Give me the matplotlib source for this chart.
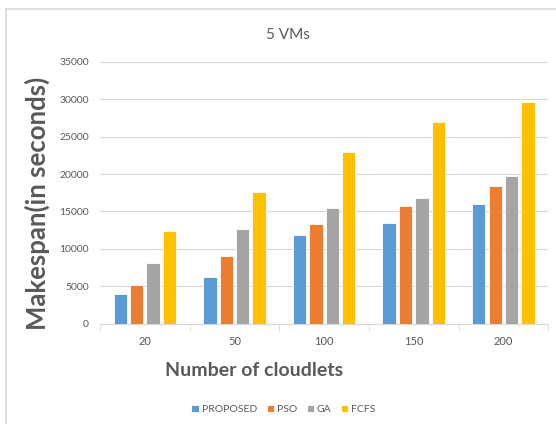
import matplotlib.pyplot as plt
import numpy as np

plt.rcParams['font.family'] = ['Lato', 'DejaVu Sans']

categories = ["20", "50", "100", "150", "200"]
series = ["PROPOSED", "PSO", "GA", "FCFS"]
proposed = [3950, 6250, 11800, 13450, 16050]
pso = [5200, 9000, 13250, 15700, 18400]
ga = [8100, 12650, 15450, 16800, 19750]
fcfs = [12350, 17600, 22950, 26900, 29650]
colors = ["#5B9BD5", "#ED7D31", "#A5A5A5", "#FFC000"]

values = [proposed, pso, ga, fcfs]
text_col = "#595959"

fig = plt.figure(figsize=(5.56, 4.24), dpi=100)
ax = fig.add_axes([0.18, 0.237, 0.806, 0.617])

x = np.arange(len(categories))
step = 0.183
width = 0.149
for i, (name, vals) in enumerate(zip(series, values)):
    ax.bar(x + (i - 1.5) * step, vals, width, color=colors[i], label=name,
           edgecolor="white", linewidth=0.6, zorder=3)

ax.set_xlim(-0.5, len(categories) - 0.5)
ax.set_ylim(0, 35000)
ax.set_yticks(np.arange(0, 35001, 5000))
ax.yaxis.grid(True, color="#D9D9D9", linewidth=0.8, zorder=0)
ax.set_xticks(x)
ax.set_xticklabels(categories)
ax.set_xticks(np.arange(-0.5, len(categories)), minor=True)
ax.tick_params(axis="x", which="major", length=0, pad=9, labelsize=8, labelcolor=text_col)
ax.tick_params(axis="x", which="minor", length=5, color="#D9D9D9")
ax.tick_params(axis="y", length=0, pad=8, labelsize=7.5, labelcolor=text_col)
for s in ["top", "right", "left"]:
    ax.spines[s].set_visible(False)
ax.spines["bottom"].set_color("#D9D9D9")

fig.text(0.518, 0.917, "5 VMs", ha="center", va="center", fontsize=11, color=text_col)
fig.text(0.068, 0.52, "Makespan(in seconds)", rotation=90, ha="center", va="center",
         fontsize=18.5, fontweight="bold", color=text_col)
fig.text(0.457, 0.127, "Number of cloudlets", ha="center", va="center",
         fontsize=14, fontweight="bold", color=text_col)

leg = fig.legend(loc="center", bbox_to_anchor=(0.51, 0.035), ncol=4, frameon=False,
                 fontsize=7.5, handlelength=0.7, handleheight=0.7, handletextpad=0.3,
                 columnspacing=0.9)
for t in leg.get_texts():
    t.set_color(text_col)

# outer frame
fig.add_artist(plt.Line2D([0.01, 0.01], [0.0, 0.978], color="#D9D9D9", linewidth=1.2))
fig.add_artist(plt.Line2D([0.01, 1.0], [0.978, 0.978], color="#D9D9D9", linewidth=1.2))

fig.savefig("out.png", dpi=100, facecolor="white")
